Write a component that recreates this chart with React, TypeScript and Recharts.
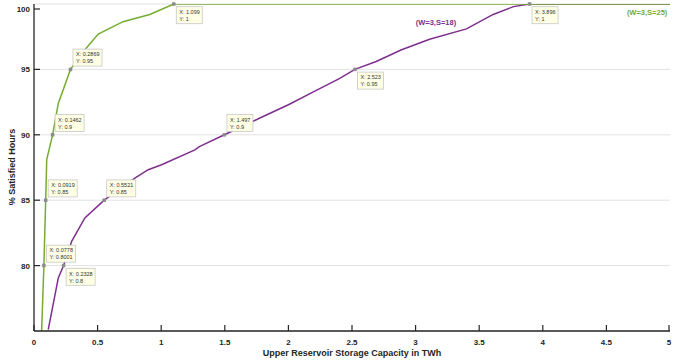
import { LineChart, Line, XAxis, YAxis, CartesianGrid, ReferenceDot, Label } from 'recharts'

// (W=3,S=25) curve
const s25X = [0.06, 0.0778, 0.0919, 0.1, 0.1462, 0.191, 0.2869, 0.4, 0.505, 0.7, 0.91, 1.099, 5]
const s25Y = [0.75, 0.8001, 0.85, 0.881, 0.9, 0.924, 0.95, 0.965, 0.977, 0.9865, 0.992, 1, 1]

// (W=3,S=18) curve
const s18X = [0.112, 0.191, 0.2328, 0.296, 0.4, 0.5521, 0.793, 0.898, 1.003, 1.265, 1.3, 1.497, 1.78, 2.0, 2.2, 2.4, 2.523, 2.69, 2.89, 3.11, 3.4, 3.61, 3.77, 3.896, 5]
const s18Y = [0.751, 0.7906, 0.8, 0.8185, 0.8364, 0.85, 0.8669, 0.8733, 0.8771, 0.8885, 0.891, 0.9, 0.913, 0.923, 0.933, 0.943, 0.95, 0.956, 0.965, 0.973, 0.981, 0.992, 0.998, 1, 1]

const xTicks = [0, 0.5, 1, 1.5, 2, 2.5, 3, 3.5, 4, 4.5, 5]
const yTicks = [0.8, 0.85, 0.9, 0.95, 1]

// data tips
const tipX = [1.099, 0.2869, 0.1462, 0.0919, 0.0778, 0.5521, 0.2328, 1.497, 2.523, 3.896]
const tipY = [1, 0.95, 0.9, 0.85, 0.8001, 0.85, 0.8, 0.9, 0.95, 1]
const tipBelow = [true, false, false, false, false, false, true, false, true, true]

const GREEN = '#77ac30'
const PURPLE = '#7e2f8e'
const AXIS = '#262626'
const FONT = '"Liberation Sans", Arial, sans-serif'

const s25 = s25X.map((x, i) => ({ x, y: s25Y[i] }))
const s18 = s18X.map((x, i) => ({ x, y: s18Y[i] }))

function XTick({ x, y, payload }: any) {
  return (
    <g>
      <line x1={x} x2={x} y1={y} y2={y - 6} stroke={AXIS} strokeWidth={1.2} />
      <text x={x} y={y + 14} textAnchor="middle" fontSize={8} fontWeight="bold" fill={AXIS} fontFamily={FONT}>
        {payload.value}
      </text>
    </g>
  )
}

function YTick({ x, y, payload }: any) {
  return (
    <g>
      <line x1={x} x2={x + 6} y1={y} y2={y} stroke={AXIS} strokeWidth={1.2} />
      <text x={x - 4} y={y + 3} textAnchor="end" fontSize={8} fontWeight="bold" fill={AXIS} fontFamily={FONT}>
        {Math.round(payload.value * 100)}
      </text>
    </g>
  )
}

function tipShape(i: number) {
  return (p: any) => {
    const { cx, cy } = p
    const l1 = `X: ${tipX[i]}`
    const l2 = `Y: ${tipY[i]}`
    const w = Math.max(l1.length, l2.length) * 3 + 2
    const h = 17
    const left = cx + 2.5
    const top = tipBelow[i] ? cy + 2.7 : cy - 3.3 - h
    return (
      <g>
        <rect x={cx - 1.75} y={cy - 1.75} width={3.5} height={3.5} fill="#8c8c8c" />
        <rect x={left} y={top} width={w} height={h} fill="#ffffe6" stroke="#c8c8c8" strokeWidth={0.8} />
        <text x={left + 3} y={top + 7.3} fontSize={5.5} fill="#333" fontFamily={FONT}>{l1}</text>
        <text x={left + 3} y={top + 14.3} fontSize={5.5} fill="#333" fontFamily={FONT}>{l2}</text>
      </g>
    )
  }
}

function note(text: string, color: string) {
  return (p: any) => (
    <text x={p.cx} y={p.cy + 3} textAnchor="middle" fontSize={7.5} fontWeight="bold" fill={color} fontFamily={FONT}>
      {text}
    </text>
  )
}

export default function App() {
  return (
    <div style={{ width: 673, height: 360, background: '#fff' }}>
      <style>{'body{margin:0}'}</style>
      <LineChart width={673} height={360} margin={{ top: 4, right: 3, bottom: 0, left: 0 }}>
        <CartesianGrid vertical={false} stroke="#e2e2e2" />
        <XAxis
          dataKey="x"
          type="number"
          domain={[0, 5]}
          ticks={xTicks}
          height={29}
          tickSize={0}
          tickMargin={0}
          tickLine={false}
          tick={<XTick />}
          axisLine={{ stroke: AXIS, strokeWidth: 1.3 }}
          allowDataOverflow
        >
          <Label
            content={() => (
              <text x={352} y={356} textAnchor="middle" fontSize={9} fontWeight="bold" fill={AXIS} fontFamily={FONT}>
                Upper Reservoir Storage Capacity in TWh
              </text>
            )}
          />
        </XAxis>
        <YAxis
          dataKey="y"
          type="number"
          domain={[0.75, 1]}
          ticks={yTicks}
          width={34}
          tickSize={0}
          tickMargin={0}
          tickLine={false}
          tick={<YTick />}
          axisLine={{ stroke: AXIS, strokeWidth: 1.3 }}
          allowDataOverflow
        >
          <Label
            content={() => (
              <text
                x={15}
                y={167}
                transform="rotate(-90 15 167)"
                textAnchor="middle"
                fontSize={9}
                fontWeight="bold"
                fill={AXIS}
                fontFamily={FONT}
              >
                % Satisfied Hours
              </text>
            )}
          />
        </YAxis>
        <Line data={s18} dataKey="y" type="linear" stroke={PURPLE} strokeWidth={1.5} dot={false} isAnimationActive={false} />
        <Line data={s25} dataKey="y" type="linear" stroke={GREEN} strokeWidth={1.5} dot={false} isAnimationActive={false} />
        <ReferenceDot x={3.16} y={0.9863} r={0} shape={note('(W=3,S=18)', PURPLE)} />
        <ReferenceDot x={4.82} y={0.9939} r={0} shape={note('(W=3,S=25)', GREEN)} />
        {tipX.map((x, i) => (
          <ReferenceDot key={i} x={x} y={tipY[i]} r={0} shape={tipShape(i)} />
        ))}
      </LineChart>
    </div>
  )
}
